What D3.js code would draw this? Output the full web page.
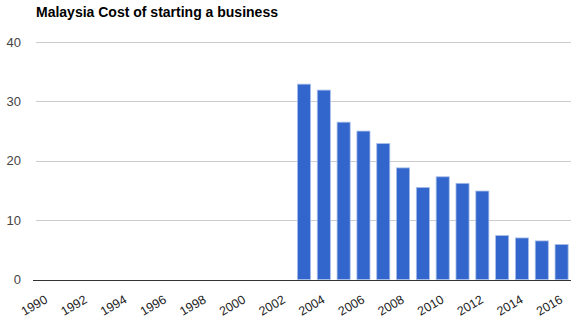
<!DOCTYPE html>
<html>
<head>
<meta charset="utf-8">
<script src="https://cdn.jsdelivr.net/npm/d3@7"></script>
<style>
  body { margin: 0; background: #fff; }
  text { font-family: "Liberation Sans", Arial, sans-serif; }
</style>
</head>
<body>
<div id="my_dataviz"></div>
<script>
// data
var years = [1990, 1991, 1992, 1993, 1994, 1995, 1996, 1997, 1998, 1999, 2000, 2001, 2002,
             2003, 2004, 2005, 2006, 2007, 2008, 2009, 2010, 2011, 2012, 2013, 2014, 2015, 2016];
var values = [null, null, null, null, null, null, null, null, null, null, null, null, null,
              32.9, 31.9, 26.5, 25.0, 22.9, 18.8, 15.5, 17.3, 16.2, 14.9, 7.4, 7.0, 6.5, 5.9];
var yTicks = [0, 10, 20, 30, 40];
var xLabels = [1990, 1992, 1994, 1996, 1998, 2000, 2002, 2004, 2006, 2008, 2010, 2012, 2014, 2016];
var title = "Malaysia Cost of starting a business";

var width = 571, height = 320;
var margin = {left: 36.5, right: 571.5, top: 42, bottom: 279.5};

var svg = d3.select("#my_dataviz")
  .append("svg")
    .attr("width", width)
    .attr("height", height);

var data = years.map(function(y, i) { return {year: y, value: values[i]}; });

// X scale
var x = d3.scaleBand()
  .domain(years)
  .range([margin.left, margin.right])
  .paddingInner(0.34)
  .paddingOuter(0.17);

// Y scale
var y = d3.scaleLinear()
  .domain([0, 40])
  .range([margin.bottom, margin.top]);

// gridlines
svg.append("g")
  .selectAll("line")
  .data(yTicks.filter(function(d) { return d > 0; }))
  .enter()
  .append("line")
    .attr("x1", 36)
    .attr("x2", width)
    .attr("y1", function(d) { return Math.round(y(d)) + 0.5; })
    .attr("y2", function(d) { return Math.round(y(d)) + 0.5; })
    .attr("stroke", "#cccccc")
    .attr("stroke-width", 1);

// y labels
svg.append("g")
  .selectAll("text")
  .data(yTicks)
  .enter()
  .append("text")
    .attr("x", 21)
    .attr("y", function(d) { return y(d) + 4.5; })
    .attr("text-anchor", "end")
    .attr("font-size", 13)
    .attr("fill", "#444")
    .text(function(d) { return d; });

// bars
svg.append("g")
  .selectAll("rect")
  .data(data.filter(function(d) { return d.value != null; }))
  .enter()
  .append("rect")
    .attr("x", function(d) { return x(d.year); })
    .attr("y", function(d) { return y(d.value); })
    .attr("width", x.bandwidth())
    .attr("height", function(d) { return y(0) - y(d.value); })
    .attr("fill", "#3366cc")
    .attr("stroke", "#a9bfe9")
    .attr("stroke-width", 0.8);

// baseline
svg.append("line")
  .attr("x1", 33)
  .attr("x2", width)
  .attr("y1", Math.round(y(0)) + 0.5)
  .attr("y2", Math.round(y(0)) + 0.5)
  .attr("stroke", "#333")
  .attr("stroke-width", 1);

// x labels
svg.append("g")
  .selectAll("text")
  .data(xLabels)
  .enter()
  .append("text")
    .attr("text-anchor", "end")
    .attr("font-size", 12.5)
    .attr("fill", "#222")
    .attr("transform", function(d) {
      var cx = x(d) + x.bandwidth() / 2 + 2;
      return "translate(" + cx + ",302) rotate(-30)";
    })
    .text(function(d) { return d; });

// title
svg.append("text")
  .attr("x", 36)
  .attr("y", 17)
  .attr("font-size", 14)
  .attr("font-weight", "bold")
  .attr("fill", "#000")
  .text(title);
</script>
</body>
</html>
